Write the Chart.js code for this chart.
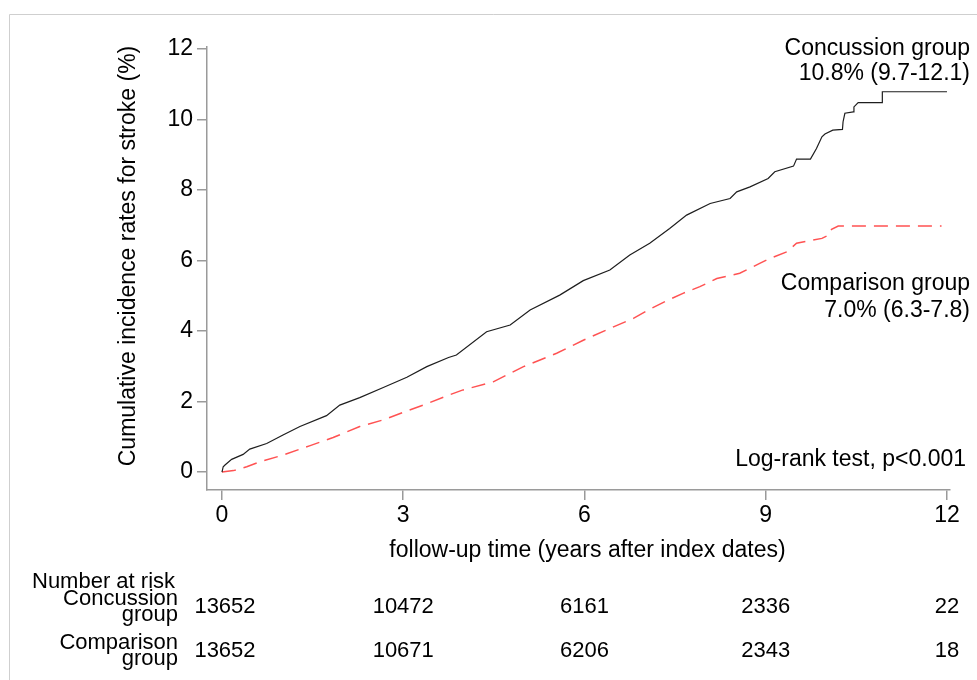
<!DOCTYPE html>
<html><head><meta charset="utf-8">
<script src="https://cdn.jsdelivr.net/npm/chart.js@4"></script>
<style>html,body{margin:0;padding:0;background:#fff}canvas{display:block}</style>
</head><body>
<canvas id="c" width="977" height="680"></canvas>
<script>
// ---- data ----
const concussionTime = [0,0.02,0.05,0.16,0.35,0.46,0.74,1.01,1.29,1.73,1.95,2.28,2.67,3.06,3.39,3.75,3.88,4.38,4.77,5.10,5.59,5.98,6.42,6.75,7.08,7.41,7.69,8.08,8.41,8.52,8.74,9.04,9.15,9.46,9.51,9.74,9.84,9.93,9.98,10.11,10.27,10.28,10.31,10.45,10.46,10.53,10.93,10.93,12.0];
const concussionRate = [0,0.15,0.20,0.36,0.50,0.65,0.81,1.05,1.29,1.60,1.90,2.11,2.40,2.69,2.99,3.25,3.32,3.98,4.17,4.60,5.02,5.43,5.73,6.16,6.49,6.91,7.29,7.62,7.76,7.95,8.09,8.33,8.52,8.68,8.88,8.88,9.18,9.51,9.59,9.70,9.72,9.94,10.18,10.22,10.36,10.48,10.48,10.79,10.79];
const comparisonTime = [0,0.19,0.41,0.63,1.01,1.46,1.84,2.28,2.67,3.06,3.44,3.75,3.99,4.49,4.99,5.54,5.98,6.48,6.81,7.08,7.36,7.63,7.91,8.19,8.57,8.90,9.07,9.35,9.51,9.93,10.04,10.09,10.20,11.91];
const comparisonRate = [0,0.04,0.15,0.29,0.48,0.75,0.98,1.29,1.48,1.73,1.97,2.18,2.33,2.56,2.99,3.37,3.74,4.12,4.36,4.62,4.86,5.07,5.26,5.49,5.64,5.92,6.06,6.25,6.49,6.63,6.72,6.89,6.98,6.98];
const xTickValues = [0,3,6,9,12];
const yTickValues = [0,2,4,6,8,10,12];
const riskTimes = [0,3,6,9,12];
const riskConcussion = [13652,10472,6161,2336,22];
const riskComparison = [13652,10671,6206,2343,18];
const riskHeader = 'Number at risk';
const riskGroupLabels = [['Concussion','group'],['Comparison','group']];
const endLabels = [['Concussion group','10.8% (9.7-12.1)'],['Comparison group','7.0% (6.3-7.8)']];
const testLabel = 'Log-rank test, p<0.001';
const xTitle = 'follow-up time (years after index dates)';
const yTitle = 'Cumulative incidence rates for stroke (%)';

const FONT = '"Liberation Sans", Arial, Helvetica, sans-serif';
const toXY = (t, v) => t.map((x, i) => ({x, y: v[i]}));

const extras = {
  id: 'extras',
  beforeDraw(chart) {
    const ctx = chart.ctx;
    ctx.save();
    ctx.strokeStyle = '#cfcfcf';
    ctx.lineWidth = 1;
    ctx.beginPath();
    ctx.moveTo(9.5, 680); ctx.lineTo(9.5, 14.5); ctx.lineTo(977, 14.5);
    ctx.stroke();
    ctx.restore();
  },
  afterDraw(chart) {
    const ctx = chart.ctx;
    const xs = chart.scales.x;
    const ca = chart.chartArea;
    ctx.save();
    ctx.fillStyle = '#000';
    ctx.textBaseline = 'alphabetic';
    // y title
    ctx.font = '23px ' + FONT;
    ctx.save();
    ctx.translate(135, 256);
    ctx.rotate(-Math.PI / 2);
    ctx.textAlign = 'center';
    ctx.fillText(yTitle, 0, 0);
    ctx.restore();
    // x title
    ctx.textAlign = 'center';
    ctx.fillText(xTitle, xs.getPixelForValue(6) + 3, 557);
    // end labels
    ctx.textAlign = 'right';
    const rx = ca.right + 20;
    ctx.fillText(endLabels[0][0], rx, 55);
    ctx.fillText(endLabels[0][1], rx, 80);
    ctx.fillText(endLabels[1][0], rx, 290);
    ctx.fillText(endLabels[1][1], rx, 317);
    ctx.fillText(testLabel, rx - 4, 466);
    // risk table
    ctx.font = '22px ' + FONT;
    ctx.textAlign = 'left';
    ctx.fillText(riskHeader, 32, 588);
    ctx.textAlign = 'right';
    ctx.fillText(riskGroupLabels[0][0], 178, 605);
    ctx.fillText(riskGroupLabels[0][1], 178, 621);
    ctx.fillText(riskGroupLabels[1][0], 178, 649);
    ctx.fillText(riskGroupLabels[1][1], 178, 665);
    ctx.textAlign = 'center';
    riskTimes.forEach((t, i) => {
      const px = xs.getPixelForValue(t) + (i === 0 ? 3 : 0);
      ctx.fillText(String(riskConcussion[i]), px, 613);
      ctx.fillText(String(riskComparison[i]), px, 657);
    });
    ctx.restore();
  }
};

new Chart(document.getElementById('c'), {
  type: 'line',
  data: {
    datasets: [
      {label: 'Concussion group', data: toXY(concussionTime, concussionRate),
       borderColor: '#1e1e1e', borderWidth: 1.2, pointRadius: 0, tension: 0, fill: false},
      {label: 'Comparison group', data: toXY(comparisonTime, comparisonRate),
       borderColor: '#ff5252', borderWidth: 1.5, borderDash: [14, 8], pointRadius: 0, tension: 0, fill: false}
    ]
  },
  options: {
    responsive: false,
    animation: false,
    devicePixelRatio: 1,
    layout: {padding: {left: 0, top: 47, right: 27, bottom: 0}},
    plugins: {legend: {display: false}, tooltip: {enabled: false}, title: {display: false}},
    scales: {
      x: {
        type: 'linear', min: -0.248, max: 12.05,
        afterBuildTicks: s => { s.ticks = xTickValues.map(v => ({value: v})); },
        afterFit: s => { s.height = 190; },
        grid: {display: true, drawOnChartArea: false, drawTicks: true, tickLength: 10, color: '#9a9a9a', lineWidth: 1.5},
        border: {display: true, color: '#9a9a9a', width: 1.5},
        ticks: {color: '#000', font: {family: FONT, size: 23}, padding: 2, maxRotation: 0, autoSkip: false}
      },
      y: {
        type: 'linear', min: -0.51, max: 12.06,
        afterBuildTicks: s => { s.ticks = yTickValues.map(v => ({value: v})); },
        afterFit: s => { s.width = 207; },
        grid: {display: true, drawOnChartArea: false, drawTicks: true, tickLength: 10, color: '#9a9a9a', lineWidth: 1.5},
        border: {display: true, color: '#9a9a9a', width: 1.5},
        ticks: {color: '#000', font: {family: FONT, size: 23}, padding: 4, autoSkip: false}
      }
    }
  },
  plugins: [extras]
});
</script>
</body></html>
